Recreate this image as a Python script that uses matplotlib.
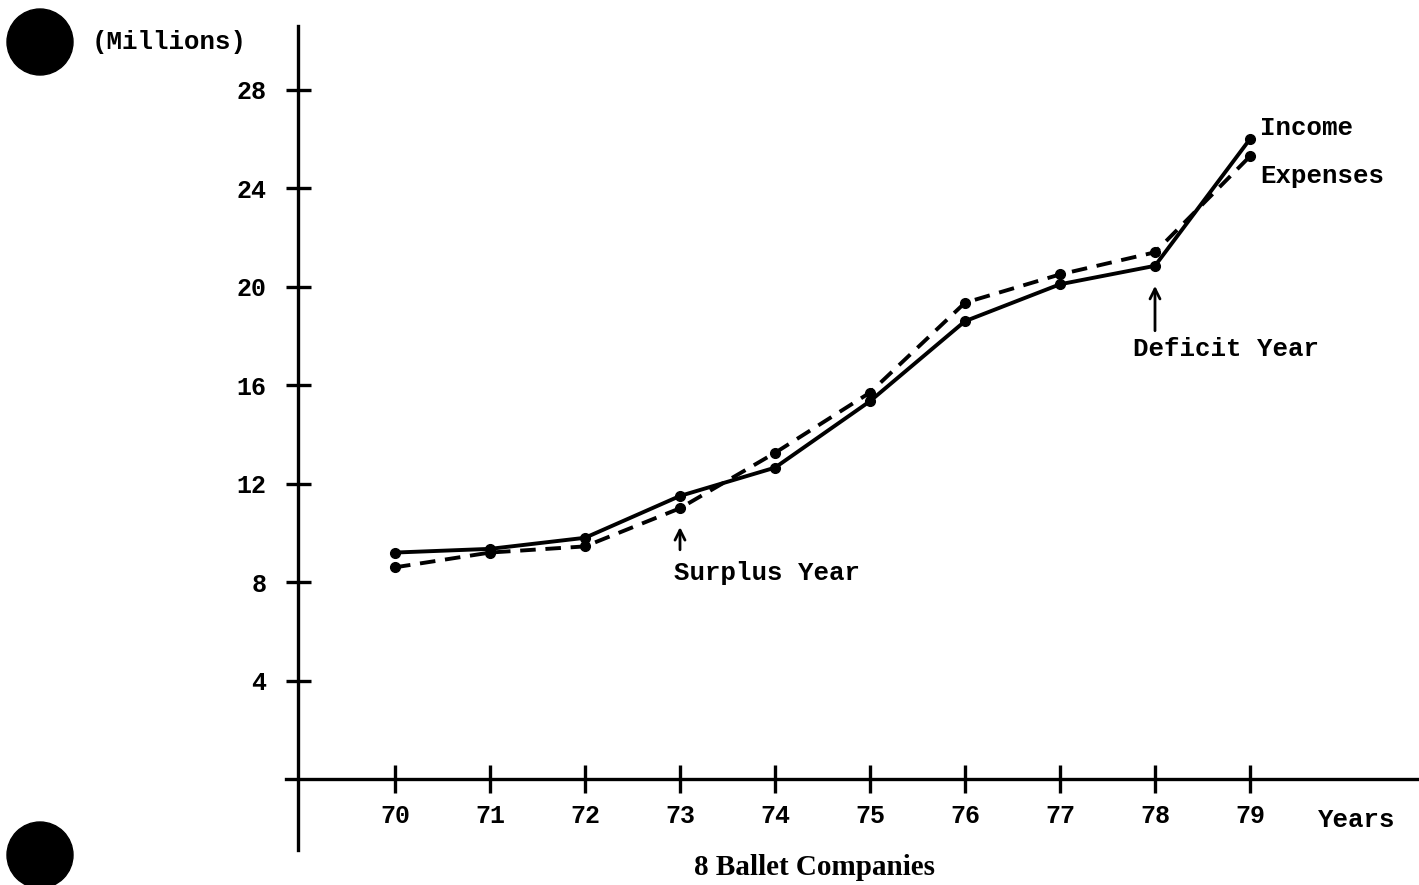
import matplotlib
matplotlib.use('Agg')
import matplotlib.pyplot as plt
from matplotlib.patches import Ellipse

# Values (millions of dollars)
years = [70, 71, 72, 73, 74, 75, 76, 77, 78, 79]
income = [9.2, 9.35, 9.8, 11.5, 12.65, 15.35, 18.6, 20.1, 20.85, 26.0]
expenses = [8.6, 9.2, 9.45, 11.0, 13.25, 15.7, 19.35, 20.5, 21.4, 25.3]
y_ticks = [4, 8, 12, 16, 20, 24, 28]
x_labels = [str(y) for y in years]

mono = 'Liberation Mono'

fig = plt.figure(figsize=(14.19, 8.85), dpi=100)
ax = fig.add_axes([0, 0, 1, 1])
ax.set_xlim(65.842, 80.779)
ax.set_ylim(-4.307, 31.65)

# Axis lines crossing at zero, like the hand drawn frame
for side in ['top', 'right']:
    ax.spines[side].set_visible(False)
ax.spines['left'].set_position(('data', 68.98))
ax.spines['left'].set_bounds(-2.9, 30.6)
ax.spines['bottom'].set_position(('data', 0))
ax.spines['bottom'].set_bounds(68.85, 80.779)
for side in ['left', 'bottom']:
    ax.spines[side].set_linewidth(2.4)

ax.set_xticks(years)
ax.set_xticklabels(x_labels, fontfamily=mono, fontsize=18, fontweight='bold')
ax.set_yticks(y_ticks)
ax.set_yticklabels([str(t) for t in y_ticks], fontfamily=mono, fontsize=18, fontweight='bold')
ax.tick_params(axis='y', direction='inout', length=18, width=2.4, pad=14)
ax.tick_params(axis='x', direction='inout', length=20, width=2.4, pad=8)

ax.plot(years, income, color='black', lw=2.8, marker='o', markersize=7)
ax.plot(years, expenses, color='black', lw=2.8, ls=(0, (4, 2.5)), marker='o', markersize=7)

# Labels and notes
txt = dict(fontfamily=mono, fontsize=18.5, fontweight='bold', va='center')
ax.text(79.105, 26.45, 'Income', ha='left', **txt)
ax.text(79.105, 24.5, 'Expenses', ha='left', **txt)
ax.text(78.75, 17.47, 'Deficit Year', ha='center', **txt)
ax.annotate('', xy=(78, 20.15), xytext=(78, 18.1),
            arrowprops=dict(arrowstyle='->', color='black', lw=2, mutation_scale=18))
ax.text(73.92, 8.37, 'Surplus Year', ha='center', **txt)
ax.annotate('', xy=(73, 10.35), xytext=(73, 9.2),
            arrowprops=dict(arrowstyle='->', color='black', lw=2, mutation_scale=18))
ax.text(66.81, 29.95, '(Millions)', ha='left', **txt)
ax.text(79.716, -1.67, 'Years', ha='left', **txt)
ax.text(74.42, -3.58, '8 Ballet Companies', fontfamily='Liberation Serif', fontsize=21,
        fontweight='bold', va='center', ha='center')

# Punch holes of the scanned page
for cy in [42, 855]:
    fig.patches.append(Ellipse((40 / 1419, 1 - cy / 885), 66 / 1419, 66 / 885,
                               transform=fig.transFigure, color='black'))

fig.savefig('out.png', dpi=100)
